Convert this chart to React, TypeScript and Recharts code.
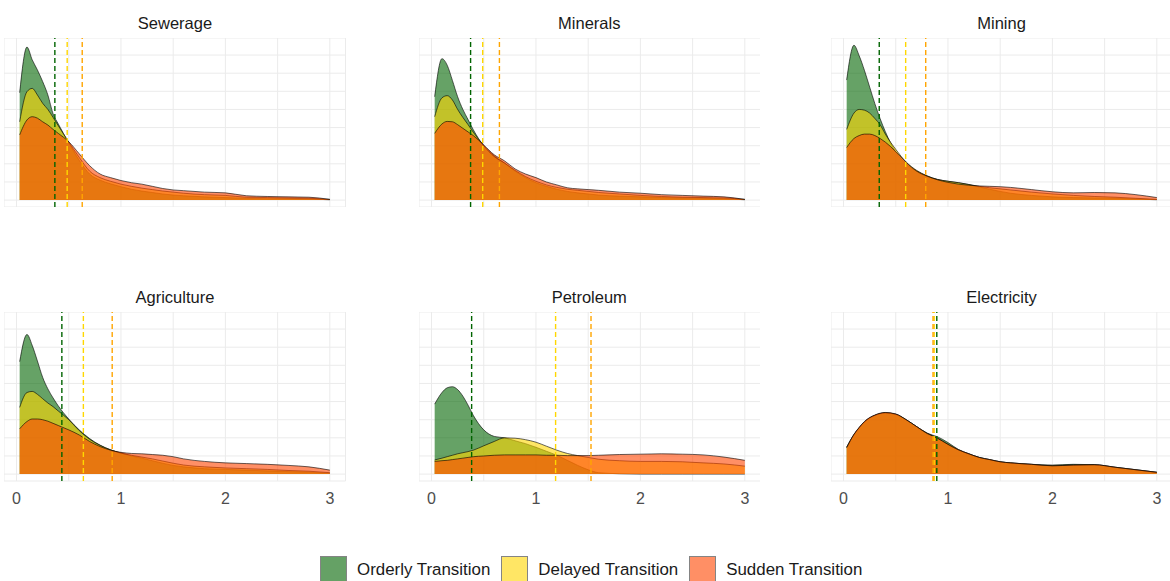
import { Area, AreaChart, CartesianGrid, ReferenceLine, XAxis, YAxis } from "recharts";

// shared x grid (value, 0..3) for every density curve
const xs = [0.03, 0.1, 0.15, 0.2, 0.25, 0.3, 0.35, 0.4, 0.5, 0.6, 0.7, 0.8, 0.9, 1.0, 1.1, 1.2, 1.3, 1.4, 1.5, 1.6, 1.8, 2.0, 2.2, 2.4, 2.6, 2.8, 3.0];

const sectors = ["Sewerage", "Minerals", "Mining", "Agriculture", "Petroleum", "Electricity"];
const scenarios = ["Orderly Transition", "Delayed Transition", "Sudden Transition"];

const sewerageOrderly = [2.96, 4.22, 3.87, 3.59, 3.27, 2.90, 2.38, 2.10, 1.58, 1.10, 0.72, 0.55, 0.45, 0.37, 0.30, 0.25, 0.21, 0.17, 0.14, 0.12, 0.09, 0.07, 0.05, 0.04, 0.04, 0.03, 0.01];
const sewerageDelayed = [2.16, 2.99, 3.08, 2.90, 2.67, 2.50, 2.28, 2.05, 1.60, 1.18, 0.80, 0.62, 0.52, 0.44, 0.38, 0.33, 0.29, 0.25, 0.22, 0.19, 0.15, 0.13, 0.08, 0.07, 0.06, 0.05, 0.02];
const sewerageSudden = [1.80, 2.21, 2.30, 2.26, 2.16, 2.07, 1.95, 1.84, 1.61, 1.28, 0.95, 0.72, 0.62, 0.54, 0.48, 0.44, 0.38, 0.32, 0.28, 0.26, 0.22, 0.20, 0.12, 0.10, 0.09, 0.08, 0.02];

const mineralsOrderly = [2.85, 3.90, 3.72, 3.30, 2.85, 2.50, 2.22, 1.94, 1.50, 1.22, 1.02, 0.80, 0.62, 0.48, 0.38, 0.30, 0.24, 0.20, 0.17, 0.14, 0.11, 0.09, 0.07, 0.06, 0.05, 0.04, 0.01];
const mineralsDelayed = [2.30, 2.82, 2.88, 2.76, 2.50, 2.28, 2.08, 1.87, 1.50, 1.20, 1.02, 0.82, 0.65, 0.52, 0.42, 0.35, 0.30, 0.27, 0.24, 0.21, 0.17, 0.13, 0.10, 0.08, 0.07, 0.06, 0.02];
const mineralsSudden = [1.84, 2.10, 2.17, 2.16, 2.08, 1.98, 1.88, 1.78, 1.52, 1.25, 1.08, 0.86, 0.72, 0.62, 0.50, 0.42, 0.34, 0.31, 0.29, 0.27, 0.22, 0.19, 0.15, 0.13, 0.11, 0.09, 0.02];

const miningOrderly = [3.31, 4.27, 3.98, 3.58, 3.12, 2.66, 2.25, 1.89, 1.33, 1.00, 0.80, 0.66, 0.57, 0.52, 0.48, 0.43, 0.36, 0.30, 0.24, 0.19, 0.13, 0.09, 0.07, 0.06, 0.05, 0.03, 0.01];
const miningDelayed = [1.95, 2.40, 2.50, 2.48, 2.40, 2.25, 2.08, 1.82, 1.40, 1.05, 0.82, 0.67, 0.57, 0.52, 0.48, 0.43, 0.38, 0.34, 0.31, 0.28, 0.22, 0.17, 0.13, 0.10, 0.08, 0.05, 0.02];
const miningSudden = [1.45, 1.70, 1.78, 1.82, 1.82, 1.78, 1.70, 1.60, 1.34, 1.04, 0.80, 0.66, 0.56, 0.49, 0.44, 0.41, 0.39, 0.38, 0.37, 0.35, 0.29, 0.23, 0.20, 0.21, 0.20, 0.15, 0.07];

const agricultureOrderly = [3.10, 3.85, 3.55, 3.12, 2.67, 2.35, 2.10, 1.88, 1.52, 1.22, 0.98, 0.80, 0.67, 0.58, 0.50, 0.44, 0.37, 0.30, 0.24, 0.20, 0.15, 0.13, 0.11, 0.09, 0.07, 0.05, 0.02];
const agricultureDelayed = [1.84, 2.25, 2.28, 2.20, 2.08, 1.96, 1.86, 1.74, 1.50, 1.20, 0.96, 0.79, 0.67, 0.58, 0.52, 0.47, 0.42, 0.36, 0.30, 0.25, 0.20, 0.17, 0.15, 0.13, 0.10, 0.08, 0.04];
const agricultureSudden = [1.25, 1.45, 1.52, 1.52, 1.50, 1.46, 1.40, 1.34, 1.22, 1.08, 0.90, 0.76, 0.66, 0.60, 0.57, 0.56, 0.54, 0.52, 0.48, 0.42, 0.35, 0.31, 0.29, 0.27, 0.24, 0.20, 0.11];

const petroleumOrderly = [1.93, 2.25, 2.38, 2.41, 2.33, 2.15, 1.90, 1.62, 1.22, 1.04, 1.00, 0.92, 0.84, 0.74, 0.63, 0.52, 0.38, 0.24, 0.12, 0.04, 0.01, 0, 0, 0, 0, 0, 0];
const petroleumDelayed = [0.39, 0.44, 0.48, 0.52, 0.56, 0.59, 0.62, 0.66, 0.78, 0.90, 1.00, 0.99, 0.95, 0.88, 0.77, 0.66, 0.57, 0.51, 0.46, 0.41, 0.37, 0.35, 0.35, 0.34, 0.31, 0.28, 0.22];
const petroleumSudden = [0.35, 0.37, 0.38, 0.40, 0.42, 0.44, 0.46, 0.48, 0.50, 0.52, 0.53, 0.53, 0.53, 0.53, 0.52, 0.52, 0.51, 0.51, 0.51, 0.52, 0.54, 0.55, 0.56, 0.55, 0.53, 0.47, 0.38];

const electricityOrderly = [0.74, 1.09, 1.28, 1.44, 1.55, 1.62, 1.67, 1.69, 1.65, 1.50, 1.31, 1.13, 1.03, 0.87, 0.68, 0.56, 0.46, 0.40, 0.34, 0.31, 0.27, 0.25, 0.27, 0.26, 0.19, 0.12, 0.05];
const electricityDelayed = [0.74, 1.09, 1.28, 1.44, 1.55, 1.62, 1.67, 1.69, 1.65, 1.50, 1.31, 1.13, 0.99, 0.82, 0.67, 0.56, 0.46, 0.40, 0.34, 0.31, 0.27, 0.23, 0.25, 0.26, 0.19, 0.12, 0.05];
const electricitySudden = [0.73, 1.10, 1.29, 1.45, 1.56, 1.63, 1.68, 1.70, 1.66, 1.50, 1.31, 1.12, 0.99, 0.82, 0.67, 0.56, 0.46, 0.40, 0.34, 0.31, 0.27, 0.23, 0.25, 0.26, 0.19, 0.12, 0.05];

// mean per scenario (orderly, delayed, sudden), drawn as dashed lines
const sewerageMeans = [0.367, 0.485, 0.629];
const mineralsMeans = [0.374, 0.49, 0.65];
const miningMeans = [0.342, 0.595, 0.787];
const agricultureMeans = [0.434, 0.64, 0.916];
const petroleumMeans = [0.384, 1.188, 1.527];
const electricityMeans = [0.893, 0.868, 0.857];

const xTicks = [0, 0.5, 1, 1.5, 2, 2.5, 3];
const yTicks = [0, 0.5, 1, 1.5, 2, 2.5, 3, 3.5, 4];

const panelSeries = [
	[sewerageOrderly, sewerageDelayed, sewerageSudden],
	[mineralsOrderly, mineralsDelayed, mineralsSudden],
	[miningOrderly, miningDelayed, miningSudden],
	[agricultureOrderly, agricultureDelayed, agricultureSudden],
	[petroleumOrderly, petroleumDelayed, petroleumSudden],
	[electricityOrderly, electricityDelayed, electricitySudden],
];
const panelMeans = [sewerageMeans, mineralsMeans, miningMeans, agricultureMeans, petroleumMeans, electricityMeans];

const fills = ["#006400", "#FFD700", "#FF4500"];
const meanColors = ["#006400", "#FFD700", "#FFA500"];
const keys = ["orderly", "delayed", "sudden"];

const PW = 341.5;
const PH = 169;
const AXIS_H = 30;
const panelLeft = [4.2, 418.5, 830.8];
const panelTop = [38, 311.7];
const font = "'Liberation Sans', Arial, sans-serif";

const Panel = ({ idx }: { idx: number }) => {
	const row = Math.floor(idx / 3);
	const col = idx % 3;
	const bottom = row === 1;
	const data = xs.map((x, i) => ({
		x,
		orderly: panelSeries[idx][0][i],
		delayed: panelSeries[idx][1][i],
		sudden: panelSeries[idx][2][i],
	}));

	return (
		<div style={{ position: "absolute", left: panelLeft[col], top: panelTop[row], width: PW }}>
			<div style={{ position: "absolute", top: -25, width: PW, height: 20, lineHeight: "20px", textAlign: "center", fontSize: 16.5, color: "#1a1a1a" }}>
				{sectors[idx]}
			</div>
			<AreaChart width={PW} height={PH + (bottom ? AXIS_H : 0)} data={data} margin={{ top: 0, right: 0, bottom: 0, left: 0 }}>
				<CartesianGrid stroke="#EBEBEB" strokeWidth={1} />
				<XAxis
					dataKey="x"
					type="number"
					domain={[-0.12, 3.15]}
					ticks={xTicks}
					allowDataOverflow
					hide={!bottom}
					height={AXIS_H}
					axisLine={false}
					tickLine={false}
					tickSize={6}
					tickMargin={6}
					tick={{ fill: "#4D4D4D", fontSize: 16, fontFamily: font }}
					tickFormatter={(v: number) => (Number.isInteger(v) ? String(v) : "")}
					interval={0}
				/>
				<YAxis type="number" domain={[-0.19, 4.47]} ticks={yTicks} interval={0} allowDataOverflow hide />
				{keys.map((k, i) => (
					<Area
						key={k}
						dataKey={k}
						type="monotone"
						fill={fills[i]}
						fillOpacity={0.6}
						stroke="#000"
						strokeOpacity={0.8}
						strokeWidth={0.75}
						dot={false}
						activeDot={false}
						isAnimationActive={false}
					/>
				))}
				{panelMeans[idx].map((m, i) => (
					<ReferenceLine key={i} x={m} stroke={meanColors[i]} strokeWidth={1.4} strokeDasharray="5 3" />
				))}
			</AreaChart>
		</div>
	);
};

export default function App() {
	return (
		<div style={{ position: "absolute", left: 0, top: 0, width: 1170, height: 581, overflow: "hidden", background: "#fff", fontFamily: font }}>
			{sectors.map((_, i) => (
				<Panel key={i} idx={i} />
			))}
			<div style={{ position: "absolute", left: 320, top: 556, display: "flex", alignItems: "flex-start" }}>
				{scenarios.map((s, i) => (
					<div key={s} style={{ display: "flex", alignItems: "flex-start", marginRight: 11 }}>
						<div style={{ width: 27, height: 27, background: fills[i], opacity: 0.6, border: "0.5px solid #333", boxSizing: "border-box" }} />
						<span style={{ marginLeft: 10, marginTop: 4, fontSize: 16.9, lineHeight: "20px", color: "#1a1a1a", whiteSpace: "nowrap" }}>{s}</span>
					</div>
				))}
			</div>
		</div>
	);
}
